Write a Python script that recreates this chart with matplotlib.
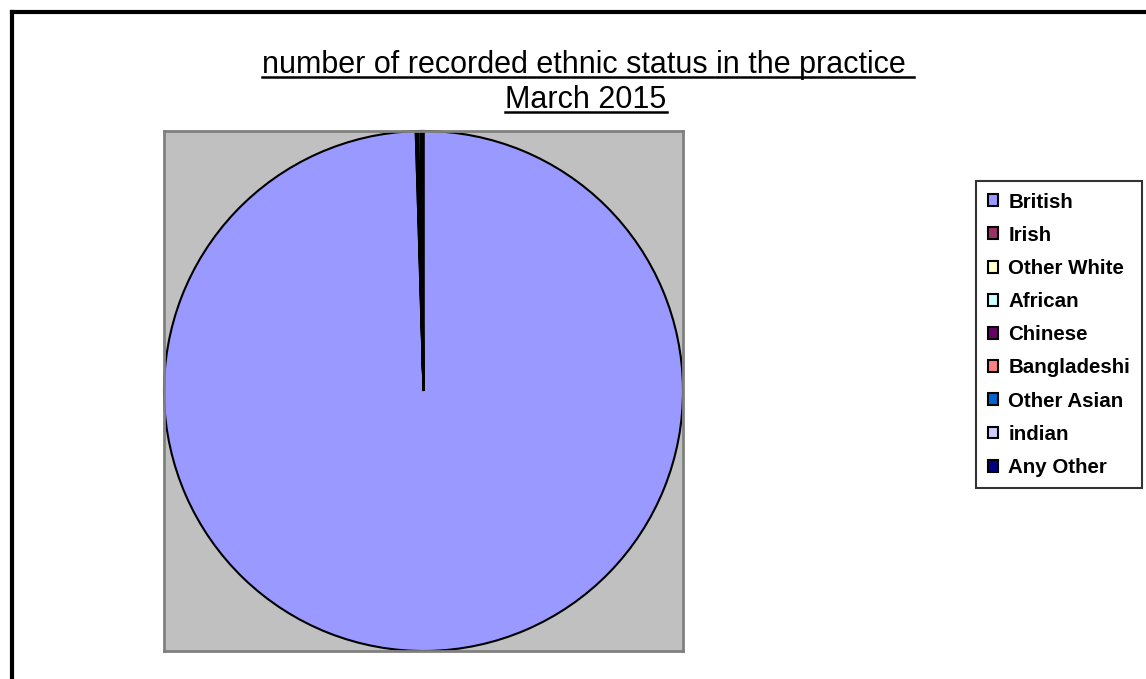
import matplotlib
matplotlib.use("Agg")
import matplotlib.pyplot as plt
from matplotlib.lines import Line2D

# Ethnic status counts (approx.)
labels = ["British", "Irish", "Other White", "African", "Chinese",
          "Bangladeshi", "Other Asian", "indian", "Any Other"]
counts = [5000, 2, 3, 1, 1, 1, 8, 2, 6]
colors = ["#9999FF", "#993366", "#FFFFCC", "#CCFFFF", "#660066",
          "#FF8080", "#0066CC", "#CCCCFF", "#000080"]

plt.rcParams["font.family"] = ["Liberation Sans", "DejaVu Sans"]

fig = plt.figure(figsize=(11.46, 6.79), dpi=100)
W, H = 1146, 679

# Outer chart frame (runs off the right/bottom edge)
fig.add_artist(Line2D([12 / W, 1.0], [1 - 12 / H, 1 - 12 / H], color="black", lw=3))
fig.add_artist(Line2D([12 / W, 12 / W], [0.0, 1 - 12 / H], color="black", lw=3))

# Plot area
ax = fig.add_axes([164 / W, 1 - 651 / H, 519 / W, 520 / H])
wedges, _ = ax.pie(counts, colors=colors, startangle=90, counterclock=False,
                   radius=1.0, frame=True,
                   wedgeprops=dict(edgecolor="black", linewidth=1.5))
ax.set_facecolor("#C0C0C0")
for s in ax.spines.values():
    s.set_color("#808080")
    s.set_linewidth(2)
ax.set_xticks([])
ax.set_yticks([])
ax.set_xlim(-1.0, 1.0)
ax.set_ylim(-1.0, 1.0)
ax.set_aspect("auto")

# Title, underlined
t1 = fig.text(588 / W, 1 - 73 / H, "number of recorded ethnic status in the practice ",
              ha="center", va="baseline", fontsize=22)
t2 = fig.text(586 / W, 1 - 108 / H, "March 2015",
              ha="center", va="baseline", fontsize=22)

fig.canvas.draw()
r = fig.canvas.get_renderer()
for t, base in ((t1, 73), (t2, 108)):
    bb = t.get_window_extent(renderer=r)
    y = 1 - (base + 4) / H
    fig.add_artist(Line2D([bb.x0 / W, bb.x1 / W], [y, y], color="black", lw=1.8))

# Legend
leg = fig.legend(wedges, labels, loc="upper left",
                 bbox_to_anchor=(976 / W, 1 - 181 / H),
                 prop=dict(weight="bold", size=14.8),
                 frameon=True, fancybox=False, edgecolor="black",
                 handlelength=0.52, handleheight=0.52, handletextpad=0.5,
                 labelspacing=0.69, borderpad=0.56, borderaxespad=0)
leg.get_frame().set_linewidth(1.5)

fig.savefig("out.png", dpi=100)
